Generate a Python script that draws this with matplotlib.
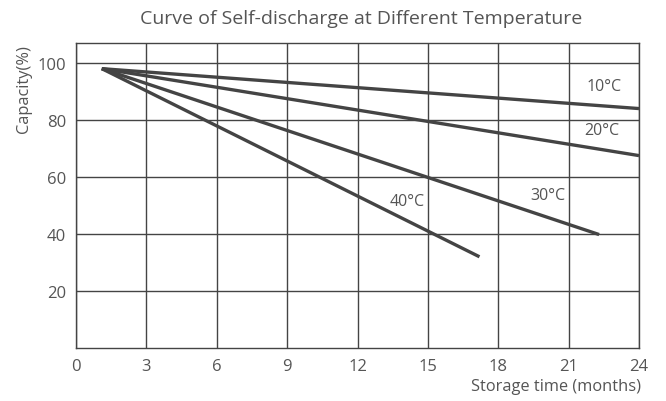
"""Self-discharge curves at different temperatures"""

import matplotlib
matplotlib.use("Agg")
import matplotlib.pyplot as plt

# Data
labels = ["10°C", "20°C", "30°C", "40°C"]
start_month = 1.1
start_capacity = 98
end_months = [24, 24, 22.3, 17.2]
end_capacity = [84, 67.5, 39.8, 32]
label_x = [22.5, 22.4, 20.1, 14.1]
label_y = [92, 76.5, 53.5, 51.5]

x_ticks = [0, 3, 6, 9, 12, 15, 18, 21, 24]
y_ticks = [20, 40, 60, 80, 100]

plt.rcParams['font.family'] = ['Open Sans', 'DejaVu Sans']
text_color = "#555555"
line_color = "#444444"

fig = plt.figure(figsize=(6.66, 4.02), dpi=100)
ax = fig.add_axes([76 / 666, 53 / 402, 563 / 666, 305 / 402])

for name, xe, ye, lx, ly in zip(labels, end_months, end_capacity, label_x, label_y):
    ax.plot([start_month, xe], [start_capacity, ye], color=line_color, lw=2.4,
            solid_capstyle='butt')
    ax.text(lx, ly, name, color=text_color, fontsize=11.5, ha='center', va='center')

ax.set_xlim(0, 24)
ax.set_ylim(0, 107)
ax.set_xticks(x_ticks)
ax.set_yticks(y_ticks)
ax.grid(True, color=line_color, lw=1)
ax.set_axisbelow(True)
ax.tick_params(length=0, labelsize=12, colors=text_color, pad=7)
for spine in ax.spines.values():
    spine.set_color(line_color)
    spine.set_linewidth(1)

fig.text(361 / 666, 1 - 19 / 402, "Curve of Self-discharge at Different Temperature",
         ha='center', va='center', fontsize=14, color=text_color)
fig.text(641 / 666, 1 - 387 / 402, "Storage time (months)",
         ha='right', va='center', fontsize=11.8, color=text_color)
fig.text(24 / 666, 1 - 89 / 402, "Capacity(%)", rotation=90,
         ha='center', va='center', fontsize=11.8, color=text_color)

fig.savefig("out.png", dpi=100)
